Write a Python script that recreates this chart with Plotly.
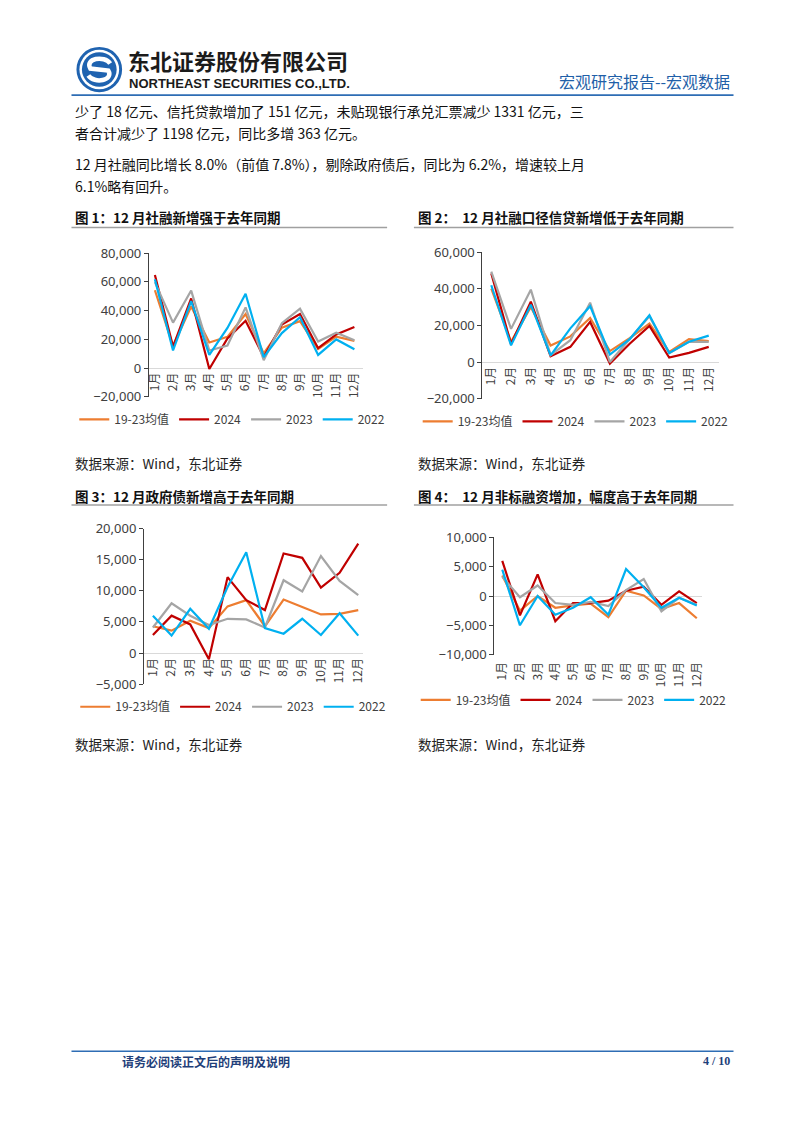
import plotly.graph_objects as go

W, H = 802, 1133
def px(x): return x / W
def py(y): return 1 - y / H

# ---------------- data ----------------
months = ["1月", "2月", "3月", "4月", "5月", "6月", "7月", "8月", "9月", "10月", "11月", "12月"]
series_names = ["19-23均值", "2024", "2023", "2022"]
series_colors = ["#ED7D31", "#C00000", "#A5A5A5", "#00B0F0"]

# 图1 社融新增（亿元）
tsf_avg = [54100, 15300, 42800, 17800, 21700, 37500, 10100, 28100, 32600, 13300, 21800, 18900]
tsf_2024 = [64700, 14900, 48400, -650, 20600, 32900, 7700, 30300, 37600, 13800, 23400, 28500]
tsf_2023 = [59800, 31600, 53900, 12200, 15600, 42200, 5400, 31200, 41300, 18400, 24500, 19300]
tsf_2022 = [61700, 12200, 46500, 9100, 27900, 51700, 7600, 24300, 35300, 9100, 19900, 13100]

# 图2 社融口径信贷新增（亿元）
loan_avg = [40000, 11000, 30000, 9000, 14000, 24000, 6000, 13000, 21000, 5500, 12500, 11500]
loan_2024 = [48400, 9800, 32900, 3200, 8300, 21900, -800, 10000, 19700, 2500, 5000, 8300]
loan_2023 = [49300, 18100, 39500, 3800, 11900, 32400, 0, 12600, 25000, 4800, 11000, 11000]
loan_2022 = [41900, 9100, 31300, 3600, 18400, 30500, 4100, 12500, 25500, 4900, 11100, 14400]

# 图3 政府债新增（亿元）
gov_avg = [4300, 3600, 5200, 4000, 7500, 8500, 4300, 8600, 7400, 6200, 6300, 6900]
gov_2024 = [2900, 6000, 4600, -1000, 12200, 8500, 6900, 16000, 15300, 10500, 12900, 17600]
gov_2023 = [4100, 8000, 6000, 4500, 5500, 5400, 4100, 11700, 9900, 15600, 11600, 9300]
gov_2022 = [6000, 2800, 7100, 3900, 10600, 16200, 4000, 3100, 5500, 2900, 6400, 2800]

# 图4 非标融资（亿元）
nstd_avg = [3500, -2500, 0, -2000, -1600, -1300, -3600, 900, 100, -2200, -1200, -3800]
nstd_2024 = [6000, -3300, 3700, -4300, -1200, -1200, -800, 900, 1600, -1500, 800, -1200]
nstd_2023 = [3300, -200, 1800, -1200, -1500, -1000, -1700, 1000, 2900, -2600, -300, -1500]
nstd_2022 = [4500, -5000, 0, -3200, -2000, -200, -3200, 4600, 1500, -2000, -300, -1600]

chart_titles = ["图 1：12 月社融新增强于去年同期",
                "图 2：  12 月社融口径信贷新增低于去年同期",
                "图 3：12 月政府债新增高于去年同期",
                "图 4：  12 月非标融资增加，幅度高于去年同期"]
source_text = "数据来源：Wind，东北证券"

charts = [
    dict(data=[tsf_avg, tsf_2024, tsf_2023, tsf_2022], yr=[-20000, 80000], dt=20000,
         xd=[146, 362], yd=[394, 248], xr=[-0.33, 11.49], lab=366, leg=(230, 417)),
    dict(data=[loan_avg, loan_2024, loan_2023, loan_2022], yr=[-20000, 60000], dt=20000,
         xd=[482, 720], yd=[396, 247], xr=[-0.45, 11.5], lab=360, leg=(576, 419)),
    dict(data=[gov_avg, gov_2024, gov_2023, gov_2022], yr=[-5000, 20000], dt=5000,
         xd=[141, 362], yd=[686, 528], xr=[-0.48, 11.27], lab=656, leg=(231, 709)),
    dict(data=[nstd_avg, nstd_2024, nstd_2023, nstd_2022], yr=[-10000, 10000], dt=5000,
         xd=[494, 703], yd=[656, 537], xr=[-0.45, 11.28], lab=660, leg=(574, 702)),
]

CJK = "Noto Sans CJK SC"
fig = go.Figure()
layout = dict(width=W, height=H, margin=dict(l=0, r=0, t=0, b=0),
              paper_bgcolor="white", plot_bgcolor="white", showlegend=True)

for i, c in enumerate(charts):
    n = "" if i == 0 else str(i + 1)
    legname = "legend" + n
    for j in range(4):
        fig.add_trace(go.Scatter(x=months, y=c["data"][j], mode="lines", name=series_names[j],
                                 line=dict(color=series_colors[j], width=2.2),
                                 xaxis="x" + n, yaxis="y" + n, legend=legname,
                                 hoverinfo="skip"))
    layout["xaxis" + n] = dict(domain=[px(c["xd"][0]), px(c["xd"][1])], anchor="free",
                               position=py(c["lab"]), range=c["xr"], type="category",
                               showline=False, showgrid=False, zeroline=False, ticks="",
                               tickangle=-90, tickfont=dict(family=CJK, size=12, color="#404040"))
    layout["yaxis" + n] = dict(domain=[py(c["yd"][0]), py(c["yd"][1])], anchor="x" + n,
                               range=c["yr"], dtick=c["dt"], tickformat=",", showgrid=False,
                               showline=True, linecolor="#404040", linewidth=1,
                               ticks="outside", ticklen=4, tickcolor="#404040",
                               zeroline=True, zerolinecolor="#D9D9D9", zerolinewidth=1,
                               tickfont=dict(family="Noto Sans", size=13, color="#404040"))
    layout[legname] = dict(orientation="h", x=px(c["leg"][0]), xanchor="center",
                           y=py(c["leg"][1]), yanchor="middle", bgcolor="rgba(0,0,0,0)",
                           font=dict(family=CJK, size=12, color="#404040"),
                           itemwidth=30, tracegroupgap=0)

fig.update_layout(**layout)

# ---------------- page text & decorations ----------------
ann = []
shapes = []

def text(x, y, s, size, color="#111", bold=False, anchor="left", family=CJK):
    ann.append(dict(x=px(x), y=py(y), xref="paper", yref="paper", text=s, showarrow=False,
                    xanchor=anchor, yanchor="middle",
                    font=dict(family=family, size=size, color=color,
                              weight="bold" if bold else "normal")))

def hline(x0, x1, y, color, width):
    shapes.append(dict(type="line", xref="paper", yref="paper", x0=px(x0), x1=px(x1),
                       y0=py(y), y1=py(y), line=dict(color=color, width=width)))

# header
text(123, 52, "东北证券股份有限公司", 22, "#1b1b1b", bold=True)
text(124, 76, "NORTHEAST SECURITIES CO.,LTD.", 13, "#1b1b1b", bold=True, family="Liberation Sans")
text(733, 73, "宏观研究报告--宏观数据", 16, "#1F5FA8", anchor="right")
hline(68, 735, 87.5, "#2E6DB4", 1.6)

# logo
cx, cy = 96, 61.5
def circ(r, color):
    shapes.append(dict(type="circle", xref="paper", yref="paper",
                       x0=px(cx - r), x1=px(cx + r), y0=py(cy + r), y1=py(cy - r),
                       fillcolor=color, line=dict(width=0)))
circ(23, "#1F63B0")
circ(20, "white")
circ(17.5, "#1F63B0")
def P(x, y): return f"{px(cx + x):.5f},{py(cy + y):.5f}"
s_path = (f"M{P(11, -6)} C{P(5, -15)} {P(-15, -11)} {P(-9, -1)} "
          f"L{P(9, 1)} C{P(15, 11)} {P(-5, 15)} {P(-11, 6)}")
shapes.append(dict(type="path", xref="paper", yref="paper", path=s_path,
                   line=dict(color="white", width=4.5)))

# body text
text(70, 104, "少了 18 亿元、信托贷款增加了 151 亿元，未贴现银行承兑汇票减少 1331 亿元，三", 14)
text(70, 126, "者合计减少了 1198 亿元，同比多增 363 亿元。", 14)
text(70, 158, "12 月社融同比增长 8.0%（前值 7.8%），剔除政府债后，同比为 6.2%，增速较上月", 14)
text(70, 180, "6.1%略有回升。", 14)

# chart titles, rules and sources
title_pos = [(70, 211, 68, 386, 222), (415, 211, 413, 735, 222),
             (70, 495, 68, 386, 504), (415, 495, 413, 735, 504)]
for (tx, ty, l0, l1, ly), t in zip(title_pos, chart_titles):
    text(tx, ty, t, 13.5, "#111", bold=True)
    hline(l0, l1, ly, "#A0A0A0", 1.5)
for sx, sy in [(70, 461), (415, 461), (70, 747), (415, 747)]:
    text(sx, sy, source_text, 13.5, "#222")

# footer
hline(68, 735, 1059, "#2E6DB4", 1.6)
text(117, 1069, "请务必阅读正文后的声明及说明", 12, "#1F3F7A", bold=True)
text(733, 1069, "4 / 10", 12, "#1F3F7A", bold=True, anchor="right", family="Liberation Serif")

fig.update_layout(annotations=ann, shapes=shapes)
fig.write_html("out.html")
